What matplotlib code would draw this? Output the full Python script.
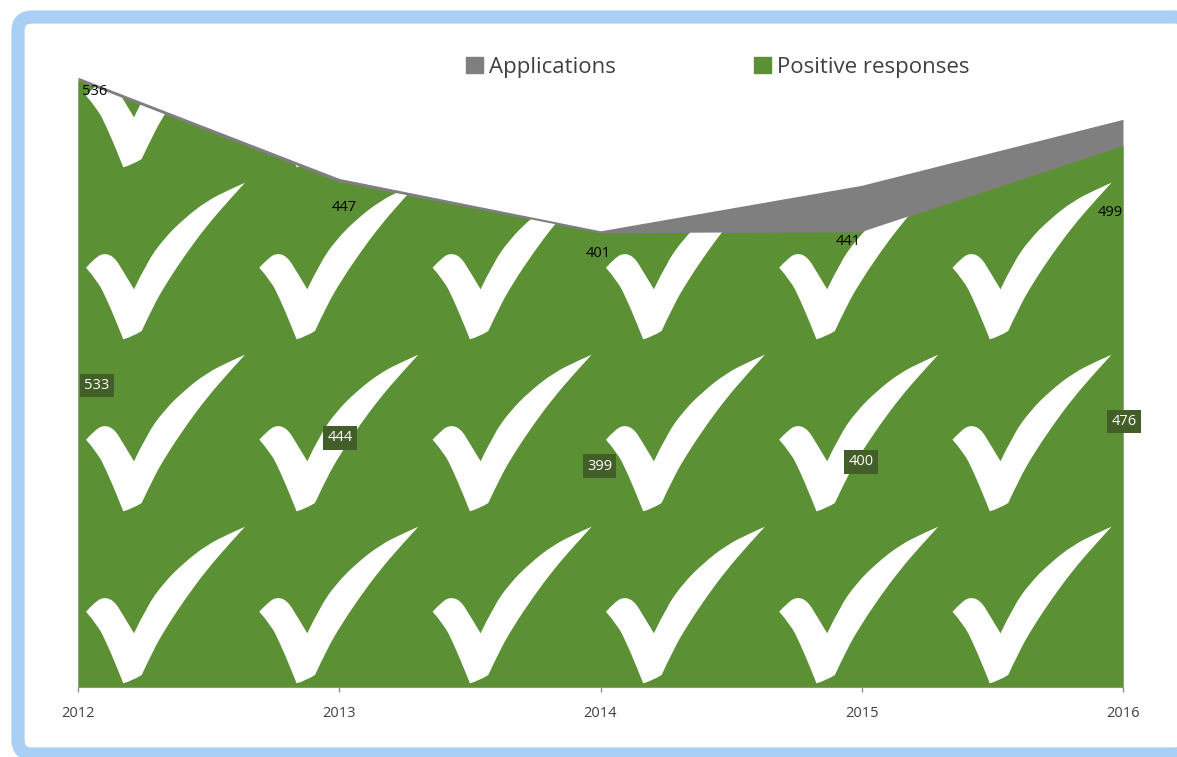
import matplotlib.pyplot as plt
from matplotlib.patches import FancyBboxPatch, PathPatch
from matplotlib.path import Path
from matplotlib.transforms import Affine2D

plt.rcParams['font.family'] = ['Open Sans', 'DejaVu Sans']

# data
years = ['2012', '2013', '2014', '2015', '2016']
applications = [536, 447, 401, 441, 499]
positive = [533, 444, 399, 400, 476]

# label offsets from their point, in pixels
app_offsets = [(17, 14), (5, 29), (-2, 23), (-14, 56), (-13, 93)]
pos_offsets = [(19, 305), (1, 256), (-1, 233), (-1, 230), (1, 276)]

# tick mark outline, pixels from the tile corner
# each list runs between two sharp corners
check_upper = [(56, 53.7), (68.7, 80.3), (85.3, 103.7), (105.3, 123.7), (128.7, 142),
               (152, 153.7), (167, 160.3)]
check_lower = [(167, 160.3), (148.7, 140.3), (128.7, 117), (108.7, 90.3), (88.7, 60.3),
               (75.3, 37), (63.7, 12)]
check_foot = [(63.7, 12), (54, 6), (45.3, 3.7)]
check_left = [(45.3, 3.7), (38.7, 20.3), (28.7, 43.7), (19.7, 62), (8, 75.3)]
check_lobe = [(8, 75.3), (16, 84), (25.3, 90), (36, 86.5), (45.3, 71.5), (56, 53.7)]


def smooth_outline(parts):
    # quadratic pieces through midpoints, corners stay sharp
    verts = [parts[0][0]]
    codes = [Path.MOVETO]
    for part in parts:
        for j in range(1, len(part) - 1):
            end = part[j + 1]
            if j < len(part) - 2:
                end = ((part[j][0] + part[j + 1][0]) / 2, (part[j][1] + part[j + 1][1]) / 2)
            verts += [part[j], end]
            codes += [Path.CURVE3, Path.CURVE3]
    verts.append(parts[0][0])
    codes.append(Path.CLOSEPOLY)
    return Path(verts, codes)


W, H = 1177, 757
GREY = '#7f7f7f'
GREEN = '#5b9034'

fig = plt.figure(figsize=(W / 100, H / 100), dpi=100)

# rounded blue frame, runs off the right side
frame = FancyBboxPatch((18 / W, 1 - 754 / H), 1170 / W, 737 / H,
                       boxstyle='round,pad=0,rounding_size=0.012',
                       transform=fig.transFigure, facecolor='white',
                       edgecolor='#a9cff5', linewidth=9.5, mutation_aspect=W / H)
fig.add_artist(frame)
frame.set_zorder(-1)

ax = fig.add_axes([78 / W, 70 / H, 1045 / W, 682.6 / H])
ax.patch.set_visible(False)

x = list(range(len(years)))
ax.fill_between(x, 0, applications, color=GREY, linewidth=0, zorder=2)
green = ax.fill_between(x, 0, positive, color=GREEN, linewidth=0, zorder=3)

# tile the white ticks, clipped to the green area
green_path = green.get_paths()[0]
check_path = smooth_outline([check_upper, check_lower, check_foot, check_left, check_lobe])
for col in range(6):
    for row in range(4):
        tile = Affine2D().translate(78 + col * 173.3, 70 + row * 172)
        patch = PathPatch(check_path, facecolor='white', edgecolor='none',
                          transform=tile, zorder=4)
        ax.add_patch(patch)
        patch.set_clip_path(green_path, ax.transData)

ax.set_xlim(0, 4)
ax.set_ylim(0, 600)
ax.set_xticks(x)
ax.set_xticklabels(years, fontsize=10.5, color='#404040')
ax.set_yticks([])
ax.tick_params(axis='x', length=3.5, width=1, color='#909090', pad=10.5)
for side in ['top', 'left', 'right']:
    ax.spines[side].set_visible(False)
ax.spines['bottom'].set_color('#909090')
ax.spines['bottom'].set_zorder(5)

# data labels
for i, v in enumerate(applications):
    dx, dy = app_offsets[i]
    ax.annotate(str(v), (i, v), xytext=(dx, -dy), textcoords='offset pixels',
                ha='center', va='center', fontsize=10.5, color='black',
                annotation_clip=False, zorder=6)
for i, v in enumerate(positive):
    dx, dy = pos_offsets[i]
    ax.annotate(str(v), (i, v), xytext=(dx, -dy), textcoords='offset pixels',
                ha='center', va='center', fontsize=10.5, color='white',
                annotation_clip=False, zorder=6,
                bbox=dict(boxstyle='square,pad=0.3', facecolor='#435e28',
                          edgecolor='none'))

# legend along the top
handles = [plt.Rectangle((0, 0), 1, 1, color=GREY),
           plt.Rectangle((0, 0), 1, 1, color=GREEN)]
fig.legend(handles, ['Applications', 'Positive responses'], ncol=2, frameon=False,
           loc='center left', bbox_to_anchor=(446 / W, 1 - 67.5 / H),
           fontsize=16, labelcolor='#404040', handlelength=0.75, handleheight=0.75,
           handletextpad=0.3, columnspacing=6.2)

fig.savefig('out.png', dpi=100)
